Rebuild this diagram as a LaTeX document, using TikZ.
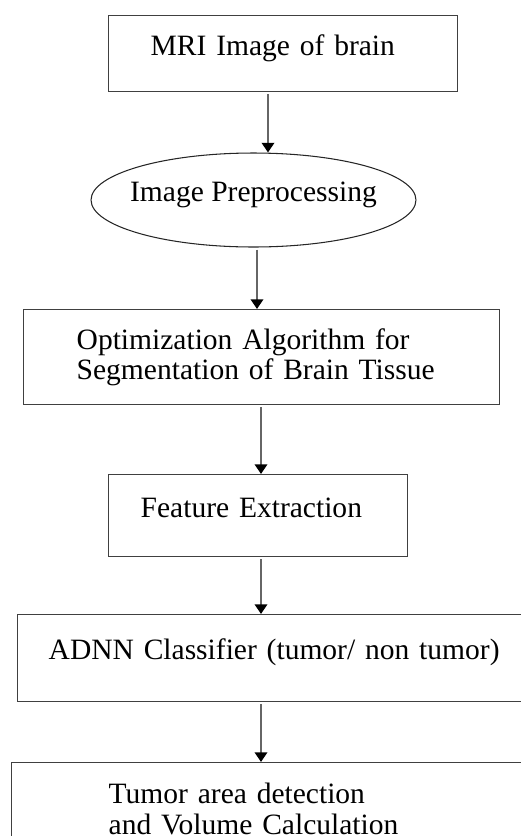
\documentclass[tikz,border=0pt]{standalone}
\usepackage{fontspec}
\setmainfont{Liberation Serif}
\usetikzlibrary{shapes.geometric,arrows.meta}

\tikzset{
	stage/.style={draw=black!75, line width=0.8pt, rectangle, anchor=north west, align=left, inner ysep=0pt, font=\fontsize{16.8}{17.4}\selectfont},
	oneline/.style={text height=0.45em, text depth=0.3em},
	arr/.style={draw=black!60, line width=1.5pt, shorten <=0.04cm, -{Triangle[width=7pt,length=5.5pt,color=black]}}
}

\begin{document}
\begin{tikzpicture}[x=0.02cm, y=-0.02cm]
			%%%%% START %%%%%
			\useasboundingbox (0, 0) rectangle (521, 836);
			
			\node[stage, oneline, inner xsep=0.84cm, text width=5.3cm, minimum height=1.52cm] (mri) at (108, 15) {MRI Image of brain};
			
			\node[draw=black!85, line width=0.6pt, ellipse, inner xsep=-0.24cm, inner ysep=0pt, minimum width=6.5cm, minimum height=1.88cm, oneline, font=\fontsize{16.8}{17.4}\selectfont] (pre) at (253.5, 200) {Image Preprocessing};
			
			\node[stage, inner xsep=1.06cm, text width=7.4cm, minimum height=1.9cm] (seg) at (23, 309) {Optimization Algorithm for\\Segmentation of Brain Tissue};
			
			\node[stage, oneline, inner xsep=0.64cm, text width=4.7cm, minimum height=1.64cm] (feat) at (108, 474) {Feature Extraction};
			
			\node[stage, oneline, inner xsep=0.62cm, text width=9.22cm, minimum height=1.74cm] (adnn) at (17, 614) {ADNN Classifier (tumor/ non tumor)};
			
			\node[stage, inner xsep=1.94cm, text width=6.7cm, minimum height=1.84cm] (vol) at (11, 762) {Tumor area detection\\and Volume Calculation};
			
			% arrow columns
			\coordinate (a1) at (268, 0);
			\coordinate (a2) at (257, 0);
			\coordinate (a3) at (261, 0);
			
			\draw[arr] (mri.south -| a1) -- (pre.north -| a1);
			\draw[arr] (pre.south -| a2) -- (seg.north -| a2);
			\draw[arr] (seg.south -| a3) -- (feat.north -| a3);
			\draw[arr] (feat.south -| a3) -- (adnn.north -| a3);
			\draw[arr] (adnn.south -| a3) -- (vol.north -| a3);
			
			%%%%% END %%%%%
\end{tikzpicture}
\end{document}
